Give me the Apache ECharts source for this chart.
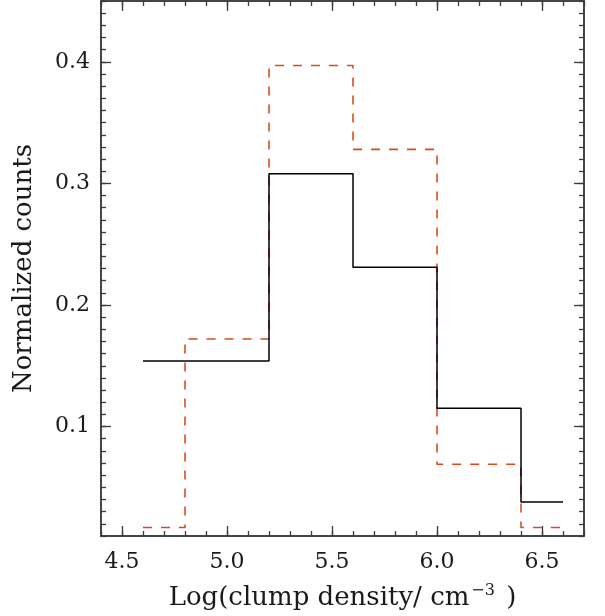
<!DOCTYPE html>
<html><head><meta charset="utf-8">
<script src="https://cdn.jsdelivr.net/npm/echarts@6/dist/echarts.min.js"></script>
<style>html,body{margin:0;padding:0;background:#fff}#c{width:605px;height:616px}</style>
</head><body><div id="c"></div>
<script>
// Data
const blackEdges = [4.6, 5.2, 5.6, 6.0, 6.4, 6.6];
const blackVals  = [0.154, 0.308, 0.231, 0.115, 0.038];
const redEdges   = [4.6, 4.8, 5.2, 5.6, 6.0, 6.4, 6.6];
const redVals    = [0.017, 0.172, 0.397, 0.328, 0.069, 0.017];
const xMajor = [4.5, 5.0, 5.5, 6.0, 6.5];
const xMinor = [4.4,4.5,4.6,4.7,4.8,4.9,5.0,5.1,5.2,5.3,5.4,5.5,5.6,5.7,5.8,5.9,6.0,6.1,6.2,6.3,6.4,6.5,6.6,6.7];
const yMajor = [0.1, 0.2, 0.3, 0.4];
const yMinor = [];
for (let i = 1; i <= 45; i++) yMinor.push(+(i/100).toFixed(2));
const xRange = [4.4, 6.7];
const yRange = [0.01, 0.45];

function stepPts(edges, vals){
  const p = vals.map((v,i)=>[edges[i], v]);
  p.push([edges[edges.length-1], vals[vals.length-1]]);
  return p;
}
const AX = '#3a3a3a';
const FONT = 'DejaVu Serif';
const TXT = '#1a1a1a';
function xa(pos, custom, len, labels, extra){
  return Object.assign({
    type:'value', position:pos, min:xRange[0], max:xRange[1],
    axisLine:{show:true, onZero:false, lineStyle:{color:AX, width:1.5}},
    axisTick:{show:true, inside:true, length:len, customValues:custom, lineStyle:{color:AX, width:1.3}},
    axisLabel:{show:labels, customValues:custom, formatter:v=>v.toFixed(1), fontFamily:FONT, fontSize:22, color:TXT, margin:15},
    splitLine:{show:false}
  }, extra||{});
}
function ya(pos, custom, len, labels, extra){
  return Object.assign({
    type:'value', position:pos, min:yRange[0], max:yRange[1],
    axisLine:{show:true, onZero:false, lineStyle:{color:AX, width:1.5}},
    axisTick:{show:true, inside:true, length:len, customValues:custom, lineStyle:{color:AX, width:1.3}},
    axisLabel:{show:labels, customValues:custom, formatter:v=>v.toFixed(1), fontFamily:FONT, fontSize:22, color:TXT, margin:11},
    splitLine:{show:false}
  }, extra||{});
}
const chart = echarts.init(document.getElementById('c'), null, {renderer:'canvas'});
chart.setOption({
  animation:false,
  backgroundColor:'#fff',
  grid:{left:101, right:21, top:1, bottom:78, containLabel:false},
  xAxis:[
    xa('bottom', xMajor, 10, true, {
      name:'{a|Log(clump density/ cm}{s|−3}{a| )}', nameLocation:'middle', nameGap:47,
      nameTextStyle:{rich:{a:{fontFamily:FONT, fontSize:26, color:TXT}, s:{fontFamily:FONT, fontSize:16, color:TXT, padding:[0,3,14,2]}}}
    }),
    xa('bottom', xMinor, 5, false),
    xa('top', xMajor, 10, false),
    xa('top', xMinor, 5, false)
  ],
  yAxis:[
    ya('left', yMajor, 10, true, {
      name:'Normalized counts', nameLocation:'middle', nameGap:64,
      nameTextStyle:{fontFamily:FONT, fontSize:26, color:TXT}
    }),
    ya('left', yMinor, 5, false),
    ya('right', yMajor, 10, false),
    ya('right', yMinor, 5, false)
  ],
  series:[
    {type:'line', xAxisIndex:0, yAxisIndex:0, step:'end', symbol:'none',
     data:stepPts(redEdges, redVals), lineStyle:{color:'#dc4a1a', width:1.6, type:[9,9]}, z:3},
    {type:'line', xAxisIndex:0, yAxisIndex:0, step:'end', symbol:'none',
     data:stepPts(blackEdges, blackVals), lineStyle:{color:'#000', width:1.5}, z:4}
  ]
});
</script></body></html>
